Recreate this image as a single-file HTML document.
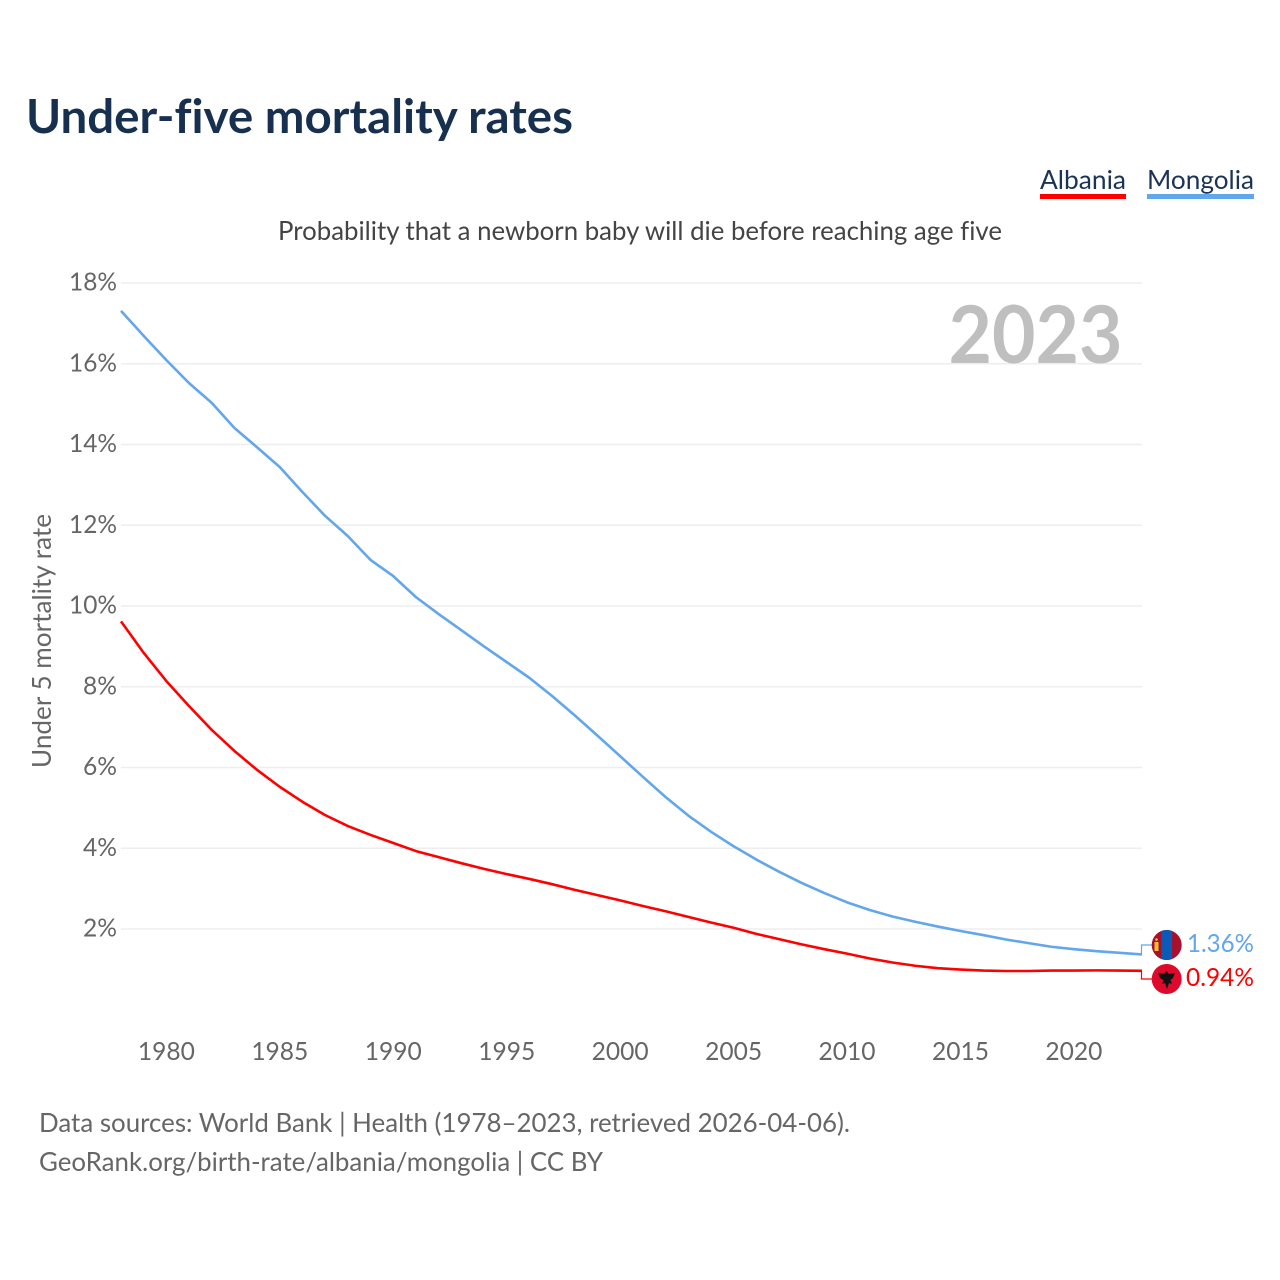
<!DOCTYPE html>
<html lang="en">
<head>
<meta charset="utf-8">
<title>Under-five mortality rates</title>
<style>
  html, body { margin: 0; padding: 0; background: #fff; }
  svg { display: block; font-family: Lato, Carlito, "Liberation Sans", sans-serif; font-variant-ligatures: none; font-feature-settings: "liga" 0; }
</style>
</head>
<body>
<svg id="chart" xmlns="http://www.w3.org/2000/svg" width="1280" height="1280" viewBox="0 0 1280 1280">
  <rect width="1280" height="1280" fill="#ffffff"/>
  <text x="26" y="133" font-size="47" font-weight="700" fill="#17304f" textLength="547" lengthAdjust="spacingAndGlyphs">Under-five mortality rates</text>

  <g>
    <text x="1040" y="189" font-size="26.5" fill="#1a3356" textLength="86" lengthAdjust="spacingAndGlyphs">Albania</text>
    <rect x="1040" y="194" width="86" height="5" fill="#ff0000"/>
  </g>
  <g>
    <text x="1147" y="189" font-size="26.5" fill="#1a3356" textLength="107" lengthAdjust="spacingAndGlyphs">Mongolia</text>
    <rect x="1147" y="194" width="107" height="5" fill="#62a6ec"/>
  </g>

  <text x="278" y="240" font-size="26.5" fill="#444444" textLength="724" lengthAdjust="spacingAndGlyphs">Probability that a newborn baby will die before reaching age five</text>

  <g id="grid"></g>
  <text x="948.5" y="363" font-size="80" font-weight="700" fill="#bfbfbf" textLength="174" lengthAdjust="spacingAndGlyphs">2023</text>
  <g id="yticks"></g>
  <g id="xticks"></g>
  <text transform="translate(51 768) rotate(-90)" x="0" y="0" font-size="26.5" fill="#666666" textLength="254" lengthAdjust="spacingAndGlyphs">Under 5 mortality rate</text>

  <g id="series"></g>

  <defs>
    <clipPath id="clip-mn"><circle cx="1166.7" cy="945" r="15"/></clipPath>
    <clipPath id="clip-al"><circle cx="1166.7" cy="979" r="15"/></clipPath>
  </defs>
  <g clip-path="url(#clip-mn)">
    <rect x="1151" y="930" width="32" height="30" fill="#a8102e"/>
    <rect x="1161.5" y="930" width="10.5" height="30" fill="#0a5bb8"/>
    <rect x="1154.5" y="942" width="4" height="9" fill="#f4c430"/>
    <circle cx="1156.5" cy="939.5" r="1.3" fill="#f4c430"/>
  </g>
  <g clip-path="url(#clip-al)">
    <rect x="1151" y="964" width="32" height="30" fill="#de0a2b"/>
    <path d="M1166.5 971 L1169 974 L1175 973 L1173 978 L1170.5 980 L1172 984 L1169 983 L1167 989 L1165 983 L1162 984 L1163.5 980 L1160 978 L1158 973 L1164 974 Z" fill="#111111"/>
  </g>
  <text id="end-label-mongolia" x="1187" y="952" font-size="25" fill="#62a6ec" textLength="67" lengthAdjust="spacingAndGlyphs">1.36%</text>
  <text id="end-label-albania" x="1186" y="986" font-size="25" fill="#ff0000" textLength="68" lengthAdjust="spacingAndGlyphs">0.94%</text>

  <text x="39" y="1132" font-size="26.5" fill="#666666" textLength="811" lengthAdjust="spacingAndGlyphs">Data sources: World Bank | Health (1978–2023, retrieved 2026-04-06).</text>
  <text x="39" y="1171" font-size="26.5" fill="#666666" textLength="564" lengthAdjust="spacingAndGlyphs">GeoRank.org/birth-rate/albania/mongolia | CC BY</text>
</svg>

<script>
const years = [1978,1979,1980,1981,1982,1983,1984,1985,1986,1987,1988,1989,1990,1991,1992,1993,1994,1995,1996,1997,1998,1999,2000,2001,2002,2003,2004,2005,2006,2007,2008,2009,2010,2011,2012,2013,2014,2015,2016,2017,2018,2019,2020,2021,2022,2023];
const mongoliaValues = [17.31,16.69,16.09,15.52,15.03,14.41,13.93,13.44,12.82,12.23,11.73,11.14,10.74,10.22,9.80,9.40,9.00,8.61,8.22,7.77,7.29,6.79,6.28,5.77,5.27,4.81,4.41,4.05,3.72,3.42,3.14,2.89,2.66,2.47,2.31,2.18,2.06,1.95,1.85,1.74,1.65,1.56,1.50,1.45,1.41,1.37];
const albaniaValues = [9.62,8.84,8.14,7.52,6.93,6.41,5.94,5.52,5.15,4.82,4.55,4.33,4.13,3.93,3.78,3.63,3.49,3.36,3.24,3.11,2.97,2.84,2.71,2.57,2.44,2.30,2.16,2.03,1.88,1.75,1.62,1.50,1.39,1.27,1.17,1.09,1.03,0.995,0.97,0.96,0.96,0.97,0.97,0.975,0.97,0.965];
const yTickValues = [2,4,6,8,10,12,14,16,18];
const xTickValues = [1980,1985,1990,1995,2000,2005,2010,2015,2020];

const NS = 'http://www.w3.org/2000/svg';
const plotLeft = 121, plotRight = 1142;
function xScale(year) { return plotLeft + (year - 1978) * (plotRight - plotLeft) / (2023 - 1978); }
function yScale(value) { return 1009.75 - value * 40.375; }
function make(tag, parent, attrs) {
  const el = document.createElementNS(NS, tag);
  for (const k in attrs) el.setAttribute(k, attrs[k]);
  parent.appendChild(el);
  return el;
}

const gridGroup = document.getElementById('grid');
const yGroup = document.getElementById('yticks');
yTickValues.forEach(function (v) {
  const line = make('line', gridGroup, { x1: plotLeft, x2: plotRight, y1: yScale(v), y2: yScale(v), stroke: '#eeeeee', 'stroke-width': 1.6 });
  
  
  const label = make('text', yGroup, { x: 117, y: yScale(v) + 7.7, 'font-size': 25, fill: '#666666', 'text-anchor': 'end', textLength: v >= 10 ? 48 : 34, lengthAdjust: 'spacingAndGlyphs' });
  
  
  label.textContent = v + '%';
});

const xGroup = document.getElementById('xticks');
xTickValues.forEach(function (yr) {
  const label = make('text', xGroup, { x: xScale(yr), y: 1060, 'font-size': 25, fill: '#666666', 'text-anchor': 'middle', textLength: 57, lengthAdjust: 'spacingAndGlyphs' });
  
  
  label.textContent = yr;
});

function linePoints(values) {
  return values.map(function (v, i) { return xScale(years[i]).toFixed(2) + ',' + yScale(v).toFixed(2); }).join(' ');
}
const seriesGroup = document.getElementById('series');

const mongoliaLine = make('polyline', seriesGroup, { points: linePoints(mongoliaValues), fill: 'none', stroke: '#62a6ec', 'stroke-width': 2.6, 'stroke-linejoin': 'round' });



const albaniaLine = make('polyline', seriesGroup, { points: linePoints(albaniaValues), fill: 'none', stroke: '#ff0000', 'stroke-width': 2.6, 'stroke-linejoin': 'round' });



const mongoliaEnd = yScale(mongoliaValues[mongoliaValues.length - 1]);
const mongoliaConnector = make('polyline', seriesGroup, { points: plotRight + ',' + mongoliaEnd + ' 1141.5,' + mongoliaEnd + ' 1141.5,945 1152,945', fill: 'none', stroke: '#62a6ec', 'stroke-width': 1.2 });



const albaniaEnd = yScale(albaniaValues[albaniaValues.length - 1]);
const albaniaConnector = make('polyline', seriesGroup, { points: plotRight + ',' + albaniaEnd + ' 1141.5,' + albaniaEnd + ' 1141.5,979 1152,979', fill: 'none', stroke: '#ff0000', 'stroke-width': 1.2 });


</script>
</body>
</html>
